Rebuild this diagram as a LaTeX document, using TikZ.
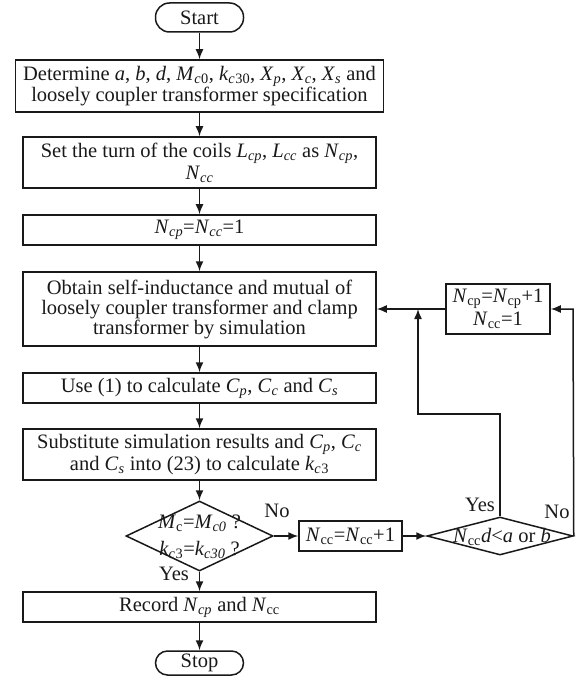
\documentclass[tikz,border=0pt]{standalone}
\usepackage{fontspec}
\setmainfont{Liberation Serif}
\usetikzlibrary{arrows.meta,shapes.geometric}
\newcommand\sbs[1]{\textsubscript{#1}}
\newcommand\isb[1]{\textsubscript{\textit{#1}}}
\begin{document}
\begin{tikzpicture}[x=1pt,y=-1pt,
  font=\fontsize{20.5}{20}\selectfont,
  every node/.style={text=black!90},
  box/.style={draw=black!90, line width=1.5pt, inner sep=0pt, align=center},
  term/.style={box, minimum width=88pt},
  dec/.style={draw=black!90, line width=1.5pt, diamond, inner sep=0pt},
  conn/.style={draw=black!90, line width=1.5pt, -{Latex[length=10pt,width=8pt]}},
  lbl/.style={inner sep=0pt}
]
\useasboundingbox (0,0) rectangle (578,676);

\node[term, rounded corners=14pt, minimum height=29pt] (start) at (199.5,17.5) {Start};
\node[box, minimum width=368pt, minimum height=52pt] (det) at (199.5,86)
  {Determine \textit{a}, \textit{b}, \textit{d}, \textit{M}\isb{c}\sbs{0}, \textit{k}\isb{c}\sbs{30}, \textit{X}\isb{p}, \textit{X}\isb{c}, \textit{X}\isb{s} and\\loosely coupler transformer specification};
\node[box, minimum width=353pt, minimum height=51pt] (set) at (199.5,162.5)
  {Set the turn of the coils \textit{L}\isb{cp}, \textit{L}\isb{cc} as \textit{N}\isb{cp},\\[2pt]\textit{N}\isb{cc}};
\node[box, minimum width=353pt, minimum height=30pt] (n1) at (199.5,230)
  {\textit{N}\isb{cp}=\textit{N}\isb{cc}=1};
\node[box, minimum width=353pt, minimum height=74pt] (obt) at (199.5,309)
  {Obtain self-inductance and mutual of\\loosely coupler transformer and clamp\\transformer by simulation};
\node[box, minimum width=353pt, minimum height=30pt] (use) at (199.5,388)
  {Use (1) to calculate \textit{C}\isb{p}, \textit{C}\isb{c} and \textit{C}\isb{s}};
\node[box, minimum width=353pt, minimum height=51pt] (sub) at (199.5,454.5)
  {Substitute simulation results and \textit{C}\isb{p}, \textit{C}\isb{c}\\and \textit{C}\isb{s} into (23) to calculate \textit{k}\isb{c}\sbs{3}};
\node[dec, minimum width=147pt, minimum height=70pt] (dia1) at (199.5,536) {};
\node[lbl, align=center, font=\fontsize{20.5}{27}\selectfont] (dia1t) at (199.5,537)
  {\textit{M}\sbs{c}=\textit{M}\isb{c0} ?\\\textit{k}\isb{c}\sbs{3}=\textit{k}\isb{c30} ?};
\node[box, minimum width=353pt, minimum height=30pt] (rec) at (199.5,607)
  {Record \textit{N}\isb{cp} and \textit{N}\sbs{cc}};
\node[term, rounded corners=12pt, minimum height=24pt] (stop) at (199.5,663) {Stop};

\node[box, minimum width=103pt, minimum height=30pt] (ncc) at (350.5,536)
  {\textit{N}\sbs{cc}=\textit{N}\sbs{cc}+1};
\node[dec, minimum width=146pt, minimum height=38pt] (dia2) at (500,536) {};
\node[lbl] (dia2t) at (502,537) {\textit{N}\sbs{cc}\textit{d}<\textit{a} or \textit{b}};
\node[box, minimum width=104pt, minimum height=50pt, font=\fontsize{20.5}{23}\selectfont] (ncp) at (498,309)
  {\textit{N}\sbs{cp}=\textit{N}\sbs{cp}+1\\\textit{N}\sbs{cc}=1};

\node[lbl] (no1) at (277,511) {No};
\node[lbl] (yes1) at (174,574) {Yes};
\node[lbl] (yes2) at (480,505) {Yes};
\node[lbl] (no2) at (557,512) {No};

\coordinate (j) at (418,309);
\coordinate (c1) at (418,414);
\coordinate (c3) at (573,309);

\draw[conn] (start) -- (det);
\draw[conn] (det) -- (set);
\draw[conn] (set) -- (n1);
\draw[conn] (n1) -- (obt);
\draw[conn] (obt) -- (use);
\draw[conn] (use) -- (sub);
\draw[conn] (sub) -- (dia1);
\draw[conn] (dia1) -- (rec);
\draw[conn] (rec) -- (stop);
\draw[conn] (dia1.east) -- (ncc);
\draw[conn] (ncc) -- (dia2.west);
\draw[conn] (ncp.west) -- (obt.east);
\draw[conn] (dia2.north) |- (c1) -- (j);
\draw[conn] (dia2.east) -- (c3) -- (ncp.east);
\end{tikzpicture}
\end{document}
